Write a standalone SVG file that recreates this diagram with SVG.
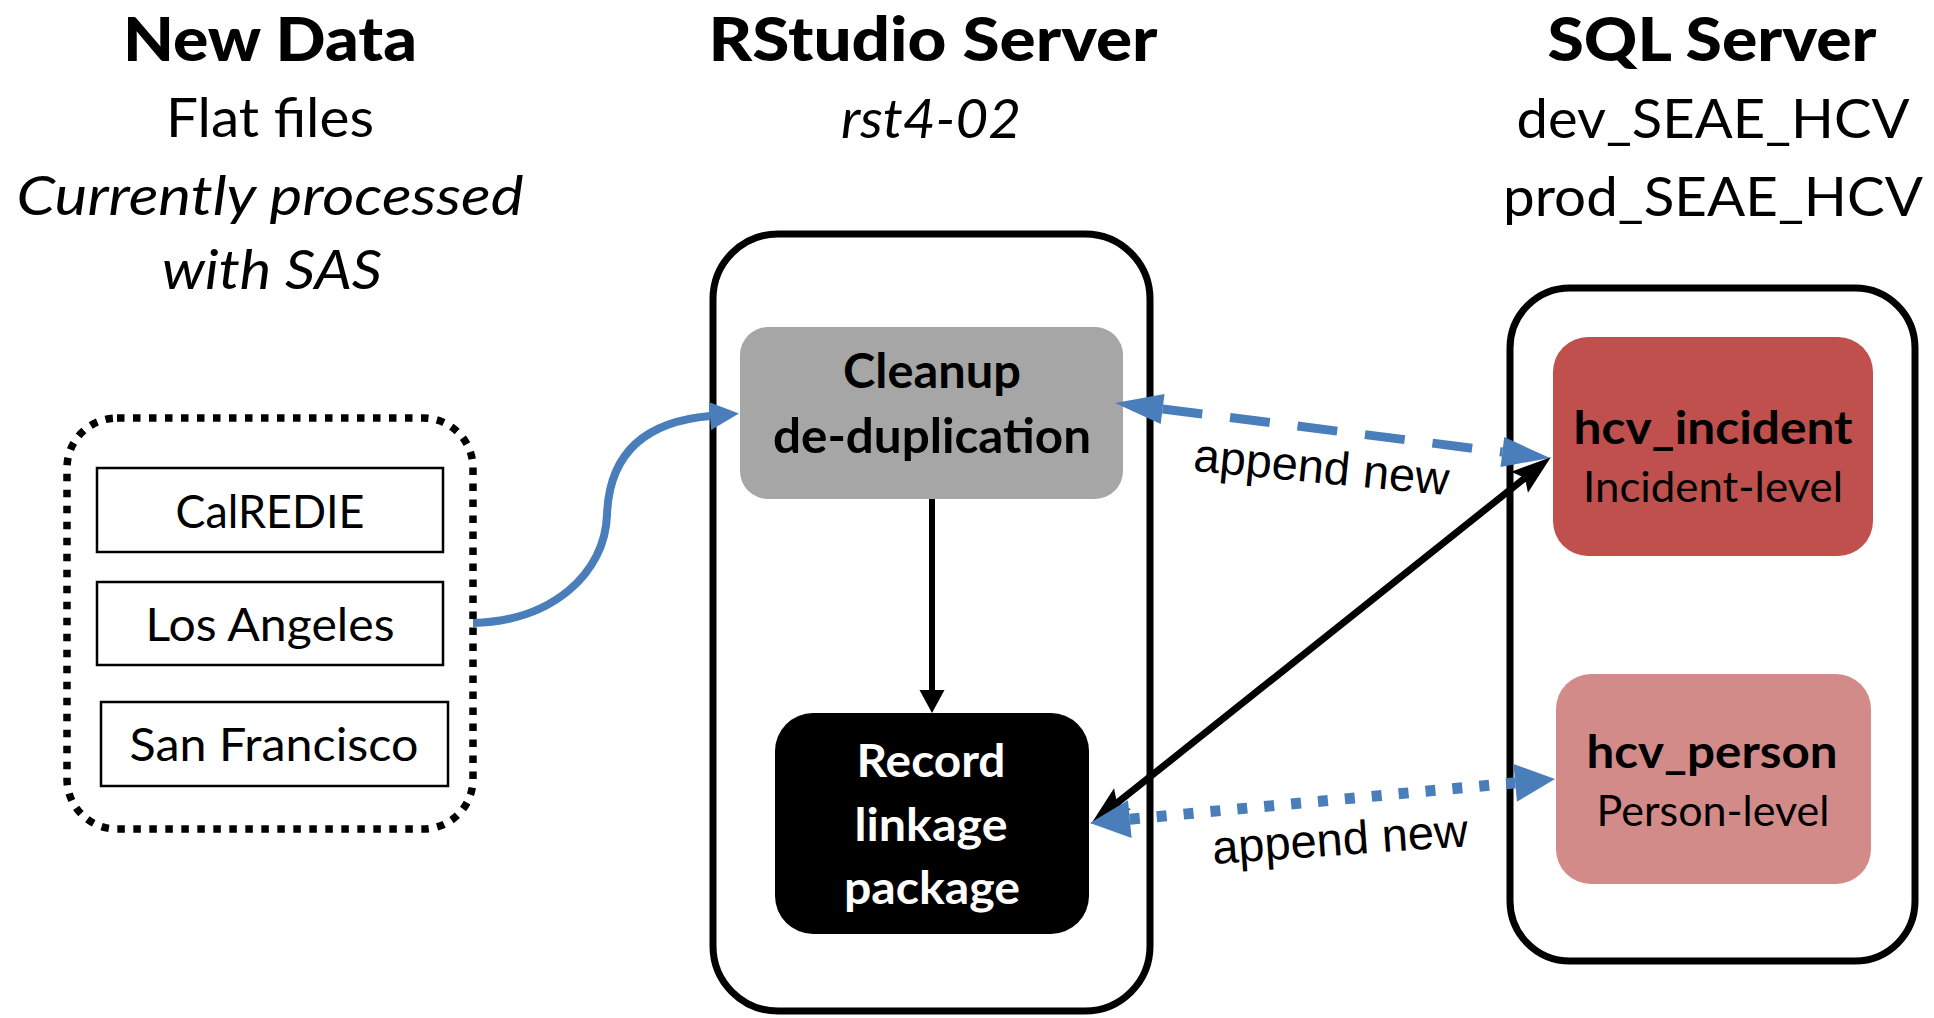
<svg xmlns="http://www.w3.org/2000/svg" width="1934" height="1018" viewBox="0 0 1934 1018">
<style>
.t{font-family:Lato,"Open Sans","DejaVu Sans",sans-serif;fill:#000;text-anchor:middle}
.b{font-weight:bold}
.i{font-style:italic}
.w{fill:#fff}
.lbl{font-family:"Liberation Sans",Arial,sans-serif;font-size:47px;fill:#000;text-anchor:middle}
.title{font-size:61px;font-weight:900}
.sub{font-size:55px}
.src{font-size:47px}
.outer{fill:#fff;stroke:#000;stroke-width:7}
.srcbox{fill:#fff;stroke:#000;stroke-width:2.5}
</style>
<defs>
<marker id="hBlueDash" markerUnits="userSpaceOnUse" viewBox="0 -20 50 40" refX="0" refY="0" markerWidth="50" markerHeight="40" orient="auto-start-reverse" overflow="visible">
<path d="M0,-15 L48,0 L0,15 z" fill="#4A7EBB"/>
</marker>
<marker id="hBlueDot" markerUnits="userSpaceOnUse" viewBox="0 -20 42 40" refX="0" refY="0" markerWidth="42" markerHeight="40" orient="auto-start-reverse" overflow="visible">
<path d="M0,-19 L40,0 L0,19 z" fill="#4A7EBB"/>
</marker>
<marker id="hBlueCurve" markerUnits="userSpaceOnUse" viewBox="0 -15 30 30" refX="0" refY="0" markerWidth="30" markerHeight="30" orient="auto" overflow="visible">
<path d="M0,-14 L29,0 L0,14 z" fill="#4A7EBB"/>
</marker>
<marker id="hBlack" markerUnits="userSpaceOnUse" viewBox="0 -14 42 28" refX="7" refY="0" markerWidth="42" markerHeight="28" orient="auto-start-reverse" overflow="visible">
<path d="M40,0 L0,-13.5 L7,0 L0,13.5 z" fill="#000"/>
</marker>
<marker id="hBlackSmall" markerUnits="userSpaceOnUse" viewBox="0 -13 24 26" refX="0" refY="0" markerWidth="24" markerHeight="26" orient="auto" overflow="visible">
<path d="M0,-12.5 L23,0 L0,12.5 z" fill="#000"/>
</marker>
</defs>
<rect width="1934" height="1018" fill="#fff"/>

<g id="titles">
<text class="t title" x="270" y="61" textLength="294" lengthAdjust="spacingAndGlyphs">New Data</text>
<text class="t sub" x="270" y="137" textLength="208" lengthAdjust="spacingAndGlyphs">Flat files</text>
<text class="t i sub" x="270" y="215" textLength="507" lengthAdjust="spacingAndGlyphs">Currently processed</text>
<text class="t i sub" x="272" y="289" textLength="220" lengthAdjust="spacingAndGlyphs">with SAS</text>
<text class="t title" x="933" y="61" textLength="449" lengthAdjust="spacingAndGlyphs">RStudio Server</text>
<text class="t i sub" x="931" y="138" textLength="180" lengthAdjust="spacingAndGlyphs">rst4-02</text>
<text class="t title" x="1712" y="61" textLength="329" lengthAdjust="spacingAndGlyphs">SQL Server</text>
<text class="t sub" x="1713" y="138" textLength="393" lengthAdjust="spacingAndGlyphs">dev_SEAE_HCV</text>
<text class="t sub" x="1713" y="216" textLength="420" lengthAdjust="spacingAndGlyphs">prod_SEAE_HCV</text>
</g>

<g id="new-data-group">
<rect x="67" y="418" width="406" height="411" rx="50" fill="none" stroke="#000" stroke-width="7.5" stroke-dasharray="7.5 8.5"/>
</g>
<g id="calredie">
<rect class="srcbox" x="97" y="468" width="346" height="84"/>
<text class="t src" x="270" y="528" textLength="189" lengthAdjust="spacingAndGlyphs">CalREDIE</text>
</g>
<g id="los-angeles">
<rect class="srcbox" x="97" y="582" width="346" height="83"/>
<text class="t src" x="270" y="641" textLength="249" lengthAdjust="spacingAndGlyphs">Los Angeles</text>
</g>
<g id="san-francisco">
<rect class="srcbox" x="101" y="702" width="347" height="84"/>
<text class="t src" x="274" y="761" textLength="289" lengthAdjust="spacingAndGlyphs">San Francisco</text>
</g>

<g id="rstudio-server">
<rect class="outer" x="713" y="234" width="437" height="777" rx="65"/>
</g>
<g id="cleanup">
<rect x="740" y="327" width="383" height="172" rx="28" fill="#A6A6A6"/>
<text class="t b" font-size="47" x="932" y="388" textLength="178" lengthAdjust="spacingAndGlyphs">Cleanup</text>
<text class="t b" font-size="47" x="932" y="453" textLength="318" lengthAdjust="spacingAndGlyphs">de-duplication</text>
</g>
<g id="record-linkage">
<rect x="775" y="713" width="314" height="221" rx="38" fill="#000"/>
<text class="t b w" font-size="46" x="931" y="777" textLength="149" lengthAdjust="spacingAndGlyphs">Record</text>
<text class="t b w" font-size="46" x="931" y="841" textLength="153" lengthAdjust="spacingAndGlyphs">linkage</text>
<text class="t b w" font-size="46" x="932" y="904" textLength="176" lengthAdjust="spacingAndGlyphs">package</text>
</g>

<g id="sql-server">
<rect class="outer" x="1510" y="288" width="405" height="673" rx="60"/>
</g>
<g id="hcv-incident">
<rect x="1553" y="337" width="320" height="219" rx="35" fill="#C0504D"/>
<text class="t b" font-size="45" x="1713" y="444" textLength="279" lengthAdjust="spacingAndGlyphs">hcv_incident</text>
<text class="t" font-size="43" x="1713" y="502" textLength="260" lengthAdjust="spacingAndGlyphs">Incident-level</text>
</g>
<g id="hcv-person">
<rect x="1556" y="674" width="315" height="210" rx="35" fill="#D38B89"/>
<text class="t b" font-size="45" x="1712" y="768" textLength="251" lengthAdjust="spacingAndGlyphs">hcv_person</text>
<text class="t" font-size="43" x="1713" y="826" textLength="233" lengthAdjust="spacingAndGlyphs">Person-level</text>
</g>

<g id="connectors">
<path d="M473,623 C553,621 605,573 607,515 C609,458 640,422 710,416" fill="none" stroke="#4A7EBB" stroke-width="8" marker-end="url(#hBlueCurve)"/>
<line x1="932" y1="499" x2="932" y2="690" stroke="#000" stroke-width="6" marker-end="url(#hBlackSmall)"/>
<line x1="1162.6" y1="409" x2="1502.4" y2="452" stroke="#4A7EBB" stroke-width="9" stroke-dasharray="40 28" marker-start="url(#hBlueDash)" marker-end="url(#hBlueDash)"/>
<line x1="1117" y1="803.1" x2="1525" y2="477.9" stroke="#000" stroke-width="7" marker-start="url(#hBlack)" marker-end="url(#hBlack)"/>
<line x1="1129.8" y1="819.2" x2="1515.2" y2="782.8" stroke="#4A7EBB" stroke-width="11" stroke-dasharray="10 17" marker-start="url(#hBlueDot)" marker-end="url(#hBlueDot)"/>
<text class="lbl" transform="translate(1320,483) rotate(5.5)">append new</text>
<text class="lbl" transform="translate(1341,855) rotate(-4)">append new</text>
</g>
</svg>
